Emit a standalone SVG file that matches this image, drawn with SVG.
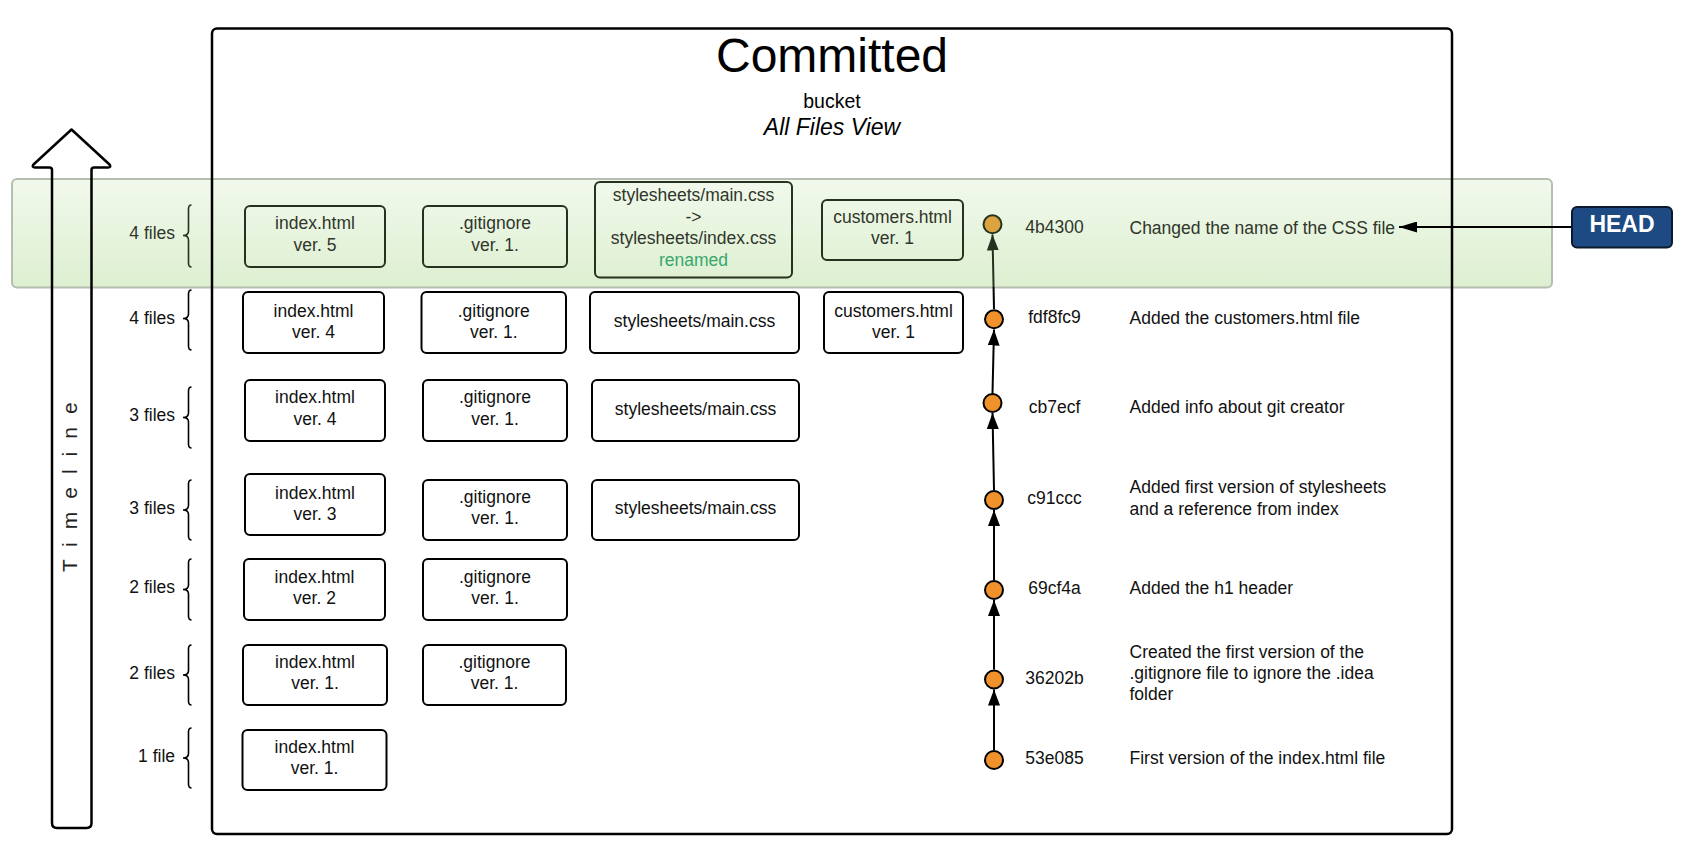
<svg xmlns="http://www.w3.org/2000/svg" width="1689" height="855" viewBox="0 0 1689 855">
<defs>
<linearGradient id="bandGrad" x1="0" y1="0" x2="0" y2="1">
<stop offset="0" stop-color="#f1f9ec"/>
<stop offset="1" stop-color="#ddefd0"/>
</linearGradient>
<linearGradient id="topLine" gradientUnits="userSpaceOnUse" x1="0" y1="234" x2="0" y2="310">
<stop offset="0" stop-color="#27311f"/>
<stop offset="0.69" stop-color="#27311f"/>
<stop offset="0.70" stop-color="#000"/>
<stop offset="1" stop-color="#000"/>
</linearGradient>
<marker id="arrBlack" markerUnits="userSpaceOnUse" viewBox="0 0 16 12" markerWidth="16" markerHeight="12" refX="16" refY="6" orient="auto">
<path d="M0,0 L16,6 L0,12 z" fill="#000"/>
</marker>
<marker id="arrGreen" markerUnits="userSpaceOnUse" viewBox="0 0 16 12" markerWidth="16" markerHeight="12" refX="16" refY="6" orient="auto">
<path d="M0,0 L16,6 L0,12 z" fill="#27311f"/>
</marker>
<marker id="arrHead" markerUnits="userSpaceOnUse" viewBox="0 0 18 11" markerWidth="18" markerHeight="11" refX="18" refY="5.5" orient="auto">
<path d="M0,0 L18,5.5 L0,11 z" fill="#000"/>
</marker>
</defs>
<style>
text{font-family:"Liberation Sans",Arial,sans-serif;font-size:17.5px;fill:#111}
.c{text-anchor:middle}
.r{text-anchor:end}
.box{fill:#fff;stroke:#000;stroke-width:2}
.gbox{fill:none;stroke:#27311f;stroke-width:2}
.g text{fill:#30362b}
.brace{fill:none;stroke:#000;stroke-width:1.6}
.gbrace{fill:none;stroke:#27311f;stroke-width:1.6}
.dot{fill:#f0922b;stroke:#000;stroke-width:2}
.gdot{fill:#dca43f;stroke:#27311f;stroke-width:2}
.link{stroke:#000;stroke-width:2;fill:none}
</style>
<rect width="1689" height="855" fill="#fff"/>

<g id="band">
<rect x="12" y="179" width="1540" height="108.5" rx="5" fill="url(#bandGrad)" stroke="#b5beb0" stroke-width="2"/>
</g>

<g id="committed">
<rect x="212" y="28.5" width="1240" height="805.5" rx="5" fill="none" stroke="#000" stroke-width="2.5"/>
<text class="c" x="832" y="71.5" style="font-size:48px;fill:#000">Committed</text>
<text class="c" x="832" y="107.5" style="font-size:19.5px;fill:#000">bucket</text>
<text class="c" x="832" y="134.5" style="font-size:23px;font-style:italic;fill:#000">All Files View</text>
</g>

<g id="timeline">
<path d="M71.5,129.5 L109.5,164.5 Q111.5,167.5 108,167.5 L94,167.5 Q91.5,167.5 91.5,170 L91.5,823 Q91.5,828 86.5,828 L57,828 Q52,828 52,823 L52,170 Q52,167.5 49.5,167.5 L35,167.5 Q31.5,167.5 33.5,164.5 Z" fill="none" stroke="#000" stroke-width="2.5" stroke-linejoin="round"/>
<text transform="translate(77,572) rotate(-90)" x="0" y="0" style="font-size:21px;letter-spacing:13px;fill:#222">Timeline</text>
</g>

<g id="counts">
<text class="r g" x="175" y="239" style="fill:#30362b">4 files</text>
<path class="gbrace" d="M191.5,205 Q188.5,205 188.5,209 L188.5,231 Q188.5,235.5 183,235.5 Q188.5,235.5 188.5,240 L188.5,263 Q188.5,267 191.5,267"/>
<text class="r" x="175" y="323.5">4 files</text>
<path class="brace" d="M191.5,290 Q188.5,290 188.5,294 L188.5,314 Q188.5,318.5 183,318.5 Q188.5,318.5 188.5,323 L188.5,346 Q188.5,350 191.5,350"/>
<text class="r" x="175" y="420.5">3 files</text>
<path class="brace" d="M191.5,387 Q188.5,387 188.5,391 L188.5,413 Q188.5,417.5 183,417.5 Q188.5,417.5 188.5,422 L188.5,444 Q188.5,448 191.5,448"/>
<text class="r" x="175" y="513.5">3 files</text>
<path class="brace" d="M191.5,480 Q188.5,480 188.5,484 L188.5,505.5 Q188.5,510 183,510 Q188.5,510 188.5,514.5 L188.5,536 Q188.5,540 191.5,540"/>
<text class="r" x="175" y="593">2 files</text>
<path class="brace" d="M191.5,559 Q188.5,559 188.5,563 L188.5,585 Q188.5,589.5 183,589.5 Q188.5,589.5 188.5,594 L188.5,616 Q188.5,620 191.5,620"/>
<text class="r" x="175" y="678.5">2 files</text>
<path class="brace" d="M191.5,645 Q188.5,645 188.5,649 L188.5,670.5 Q188.5,675 183,675 Q188.5,675 188.5,679.5 L188.5,701 Q188.5,705 191.5,705"/>
<text class="r" x="175" y="762">1 file</text>
<path class="brace" d="M191.5,728 Q188.5,728 188.5,732 L188.5,753.5 Q188.5,758 183,758 Q188.5,758 188.5,762.5 L188.5,784 Q188.5,788 191.5,788"/>
</g>

<g id="r1-index" class="g"><rect class="gbox" x="245" y="206" width="140" height="61" rx="5"/><text class="c" x="315" y="229">index.html</text><text class="c" x="315" y="251">ver. 5</text></g>
<g id="r1-gitignore" class="g"><rect class="gbox" x="423" y="206" width="144" height="61" rx="5"/><text class="c" x="495" y="229">.gitignore</text><text class="c" x="495" y="251">ver. 1.</text></g>
<g id="r1-css" class="g"><rect class="gbox" x="595" y="182" width="197" height="95.5" rx="5"/><text class="c" x="693.5" y="201">stylesheets/main.css</text><text class="c" x="693.5" y="222.5">-&gt;</text><text class="c" x="693.5" y="244">stylesheets/index.css</text><text class="c" x="693.5" y="265.5" style="fill:#37a86c">renamed</text></g>
<g id="r1-customers" class="g"><rect class="gbox" x="822" y="200" width="141" height="60" rx="5"/><text class="c" x="892.5" y="223">customers.html</text><text class="c" x="892.5" y="244">ver. 1</text></g>

<g id="r2-index"><rect class="box" x="243" y="292" width="141" height="61" rx="5"/><text class="c" x="313.5" y="316.5">index.html</text><text class="c" x="313.5" y="338">ver. 4</text></g>
<g id="r2-gitignore"><rect class="box" x="421.5" y="292" width="144.5" height="61" rx="5"/><text class="c" x="493.75" y="316.5">.gitignore</text><text class="c" x="493.75" y="338">ver. 1.</text></g>
<g id="r2-css"><rect class="box" x="590" y="292" width="209" height="61" rx="5"/><text class="c" x="694.5" y="327">stylesheets/main.css</text></g>
<g id="r2-customers"><rect class="box" x="824" y="292" width="139" height="61" rx="5"/><text class="c" x="893.5" y="316.5">customers.html</text><text class="c" x="893.5" y="338">ver. 1</text></g>

<g id="r3-index"><rect class="box" x="245" y="380" width="140" height="61" rx="5"/><text class="c" x="315" y="403">index.html</text><text class="c" x="315" y="424.5">ver. 4</text></g>
<g id="r3-gitignore"><rect class="box" x="423" y="380" width="144" height="61" rx="5"/><text class="c" x="495" y="403">.gitignore</text><text class="c" x="495" y="424.5">ver. 1.</text></g>
<g id="r3-css"><rect class="box" x="592" y="380" width="207" height="61" rx="5"/><text class="c" x="695.5" y="414.5">stylesheets/main.css</text></g>

<g id="r4-index"><rect class="box" x="245" y="474" width="140" height="61" rx="5"/><text class="c" x="315" y="498.5">index.html</text><text class="c" x="315" y="519.5">ver. 3</text></g>
<g id="r4-gitignore"><rect class="box" x="423" y="480" width="144" height="60" rx="5"/><text class="c" x="495" y="503">.gitignore</text><text class="c" x="495" y="524">ver. 1.</text></g>
<g id="r4-css"><rect class="box" x="592" y="480" width="207" height="60" rx="5"/><text class="c" x="695.5" y="513.5">stylesheets/main.css</text></g>

<g id="r5-index"><rect class="box" x="244" y="559" width="141" height="61" rx="5"/><text class="c" x="314.5" y="583">index.html</text><text class="c" x="314.5" y="604">ver. 2</text></g>
<g id="r5-gitignore"><rect class="box" x="423" y="559" width="144" height="61" rx="5"/><text class="c" x="495" y="583">.gitignore</text><text class="c" x="495" y="604">ver. 1.</text></g>

<g id="r6-index"><rect class="box" x="243" y="645" width="144" height="60" rx="5"/><text class="c" x="315" y="667.5">index.html</text><text class="c" x="315" y="689">ver. 1.</text></g>
<g id="r6-gitignore"><rect class="box" x="423" y="645" width="143" height="60" rx="5"/><text class="c" x="494.5" y="667.5">.gitignore</text><text class="c" x="494.5" y="689">ver. 1.</text></g>

<g id="r7-index"><rect class="box" x="242.5" y="730" width="144" height="60" rx="5"/><text class="c" x="314.5" y="752.5">index.html</text><text class="c" x="314.5" y="774">ver. 1.</text></g>

<g id="connectors">
<line x1="994" y1="309" x2="992.5" y2="234.5" stroke="url(#topLine)" stroke-width="2" marker-end="url(#arrGreen)"/>
<line class="link" x1="992.5" y1="393" x2="994" y2="329.5" marker-end="url(#arrBlack)"/>
<line class="link" x1="994" y1="490" x2="992.5" y2="413" marker-end="url(#arrBlack)"/>
<line class="link" x1="994" y1="580" x2="994" y2="510" marker-end="url(#arrBlack)"/>
<line class="link" x1="994" y1="669.5" x2="994" y2="600" marker-end="url(#arrBlack)"/>
<line class="link" x1="994" y1="750" x2="994" y2="689.5" marker-end="url(#arrBlack)"/>
<line class="link" x1="1572" y1="227" x2="1399" y2="227" stroke-width="2.5" marker-end="url(#arrHead)"/>
</g>

<g id="c-4b4300" class="g"><circle class="gdot" cx="992.5" cy="224.3" r="9"/><text class="c" x="1054.5" y="233.3">4b4300</text><text x="1129.5" y="234">Changed the name of the CSS file</text></g>
<g id="c-fdf8fc9"><circle class="dot" cx="994" cy="319.3" r="9"/><text class="c" x="1054.5" y="323">fdf8fc9</text><text x="1129.5" y="324">Added the customers.html file</text></g>
<g id="c-cb7ecf"><circle class="dot" cx="992.5" cy="403" r="9"/><text class="c" x="1054.5" y="413">cb7ecf</text><text x="1129.5" y="413.3">Added info about git creator</text></g>
<g id="c-c91ccc"><circle class="dot" cx="994" cy="500" r="9"/><text class="c" x="1054.5" y="503.5">c91ccc</text><text x="1129.5" y="493">Added first version of stylesheets</text><text x="1129.5" y="514.5">and a reference from index</text></g>
<g id="c-69cf4a"><circle class="dot" cx="994" cy="590" r="9"/><text class="c" x="1054.5" y="593.5">69cf4a</text><text x="1129.5" y="594">Added the h1 header</text></g>
<g id="c-36202b"><circle class="dot" cx="994" cy="679.5" r="9"/><text class="c" x="1054.5" y="683.5">36202b</text><text x="1129.5" y="657.5">Created the first version of the</text><text x="1129.5" y="679">.gitignore file to ignore the .idea</text><text x="1129.5" y="700">folder</text></g>
<g id="c-53e085"><circle class="dot" cx="994" cy="760" r="9"/><text class="c" x="1054.5" y="763.5">53e085</text><text x="1129.5" y="764">First version of the index.html file</text></g>

<g id="head">
<rect x="1572" y="207" width="100" height="40.5" rx="5" fill="#1d4a82" stroke="#0b1a2e" stroke-width="2"/>
<text class="c" x="1622" y="231.5" style="font-size:23px;font-weight:bold;fill:#fff">HEAD</text>
</g>
</svg>
